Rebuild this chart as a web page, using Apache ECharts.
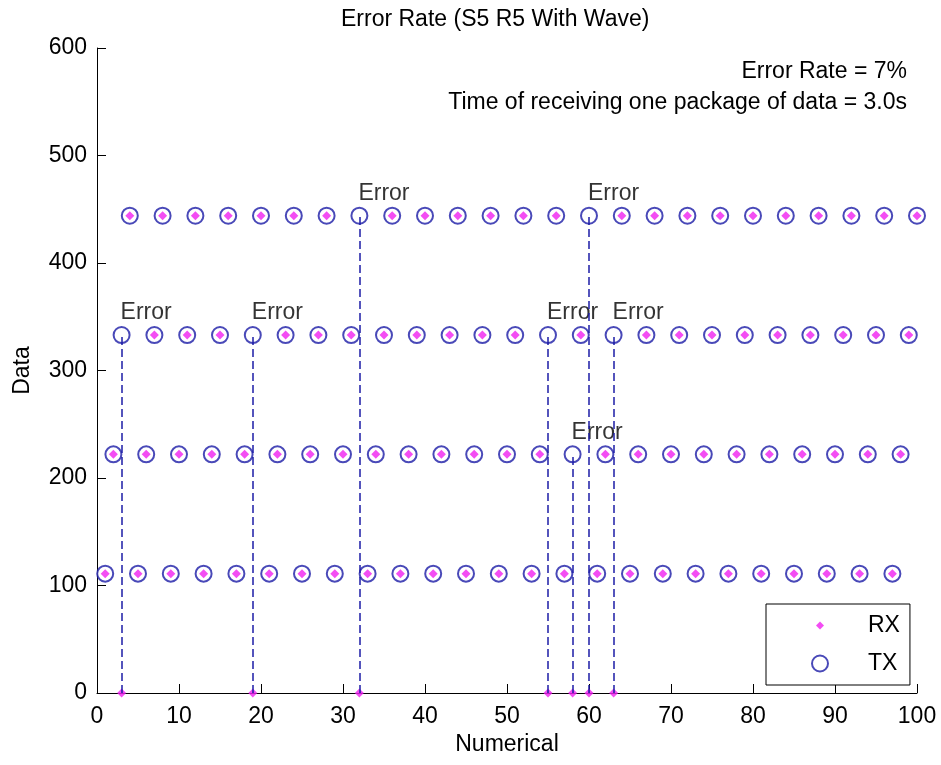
<!DOCTYPE html>
<html>
<head>
<meta charset="utf-8">
<script src="https://cdn.jsdelivr.net/npm/echarts@6/dist/echarts.min.js"></script>
<style>
  html, body { margin: 0; padding: 0; background: #fff; }
  #chart { width: 941px; height: 765px; }
</style>
</head>
<body>
<div id="chart"></div>
<script>
// datos
var txValues = [
  111, 222, 333, 444, 111, 222, 333, 444, 111, 222,
  333, 444, 111, 222, 333, 444, 111, 222, 333, 444,
  111, 222, 333, 444, 111, 222, 333, 444, 111, 222,
  333, 444, 111, 222, 333, 444, 111, 222, 333, 444,
  111, 222, 333, 444, 111, 222, 333, 444, 111, 222,
  333, 444, 111, 222, 333, 444, 111, 222, 333, 444,
  111, 222, 333, 444, 111, 222, 333, 444, 111, 222,
  333, 444, 111, 222, 333, 444, 111, 222, 333, 444,
  111, 222, 333, 444, 111, 222, 333, 444, 111, 222,
  333, 444, 111, 222, 333, 444, 111, 222, 333, 444
];
var rxValues = [
  111, 222, 0, 444, 111, 222, 333, 444, 111, 222,
  333, 444, 111, 222, 333, 444, 111, 222, 0, 444,
  111, 222, 333, 444, 111, 222, 333, 444, 111, 222,
  333, 0, 111, 222, 333, 444, 111, 222, 333, 444,
  111, 222, 333, 444, 111, 222, 333, 444, 111, 222,
  333, 444, 111, 222, 0, 444, 111, 0, 333, 0,
  111, 222, 0, 444, 111, 222, 333, 444, 111, 222,
  333, 444, 111, 222, 333, 444, 111, 222, 333, 444,
  111, 222, 333, 444, 111, 222, 333, 444, 111, 222,
  333, 444, 111, 222, 333, 444, 111, 222, 333, 444
];
var errorX = [3, 19, 32, 55, 58, 60, 63];
var xTicks = [0, 10, 20, 30, 40, 50, 60, 70, 80, 90, 100];
var yTicks = [0, 100, 200, 300, 400, 500, 600];

var FONT = "'Liberation Sans', Arial, sans-serif";
var BLUE = "#1c1ca6";
var MAGENTA = "#f020f0";

var myChart = echarts.init(document.getElementById("chart"));

var txData = txValues.map(function (v, i) {
  var x = i + 1;
  var item = { value: [x, v] };
  if (errorX.indexOf(x) >= 0) {
    item.label = { show: true };
  }
  return item;
});
var rxData = rxValues.map(function (v, i) {
  return [i + 1, v];
});
var errorLines = errorX.map(function (x) {
  return [{ coord: [x, 0] }, { coord: [x, txValues[x - 1]] }];
});

var option = {
  animation: false,
  backgroundColor: "#fff",
  textStyle: { fontFamily: FONT },
  title: {
    text: "Error Rate (S5 R5 With Wave)",
    left: 341,
    top: 8,
    padding: 0,
    textStyle: { fontFamily: FONT, fontSize: 23, fontWeight: "normal", color: "#000" }
  },
  graphic: [
    {
      type: "text",
      right: 34,
      top: 60,
      style: { text: "Error Rate = 7%", font: "23px " + FONT, fill: "#000" }
    },
    {
      type: "text",
      right: 34,
      top: 91,
      style: { text: "Time of receiving one package of data = 3.0s", font: "23px " + FONT, fill: "#000" }
    }
  ],
  grid: { left: 97, right: 24, top: 48, bottom: 72 },
  legend: {
    orient: "vertical",
    left: 766,
    top: 604,
    padding: [10, 10, 10, 45],
    itemWidth: 16,
    itemHeight: 16,
    itemGap: 15,
    borderColor: "#000",
    borderWidth: 1,
    backgroundColor: "#fff",
    textStyle: { fontFamily: FONT, fontSize: 23, color: "#000", lineHeight: 22, padding: [0, 0, 0, 35] },
    data: [
      { name: "RX", icon: "path://M0 0M20 20M10 5L15 10L10 15L5 10Z" },
      { name: "TX", icon: "emptyCircle" }
    ]
  },
  xAxis: {
    type: "value",
    min: xTicks[0],
    max: xTicks[xTicks.length - 1],
    interval: 10,
    name: "Numerical",
    nameLocation: "middle",
    nameGap: 37,
    nameTextStyle: { fontFamily: FONT, fontSize: 23, color: "#000" },
    axisLine: { lineStyle: { color: "#000", width: 1 } },
    axisTick: { inside: true, length: 9, lineStyle: { color: "#000" } },
    axisLabel: { fontFamily: FONT, fontSize: 23, color: "#000", margin: 12 },
    splitLine: { show: false }
  },
  yAxis: {
    type: "value",
    min: yTicks[0],
    max: yTicks[yTicks.length - 1],
    interval: 100,
    name: "Data",
    nameLocation: "middle",
    nameGap: 63,
    nameTextStyle: { fontFamily: FONT, fontSize: 23, color: "#000" },
    axisLine: { show: true, lineStyle: { color: "#000", width: 1 } },
    axisTick: { show: true, inside: true, length: 9, lineStyle: { color: "#000" } },
    axisLabel: { fontFamily: FONT, fontSize: 23, color: "#000", margin: 10 },
    splitLine: { show: false }
  },
  series: [
    {
      name: "TX",
      type: "scatter",
      symbol: "emptyCircle",
      symbolSize: 16,
      itemStyle: { color: BLUE, borderColor: BLUE, borderWidth: 2 },
      label: {
        show: false,
        formatter: "Error",
        position: "inside",
        align: "left",
        verticalAlign: "middle",
        offset: [-1, -22],
        fontFamily: FONT,
        fontSize: 23,
        color: "#000"
      },
      data: txData,
      markLine: {
        silent: true,
        symbol: "none",
        label: { show: false },
        lineStyle: { color: BLUE, type: [8, 4], width: 1.5 },
        data: errorLines
      },
      z: 2
    },
    {
      name: "RX",
      type: "scatter",
      symbol: "diamond",
      symbolSize: 9,
      itemStyle: { color: MAGENTA },
      data: rxData,
      z: 3
    }
  ]
};

myChart.setOption(option);
</script>
</body>
</html>
